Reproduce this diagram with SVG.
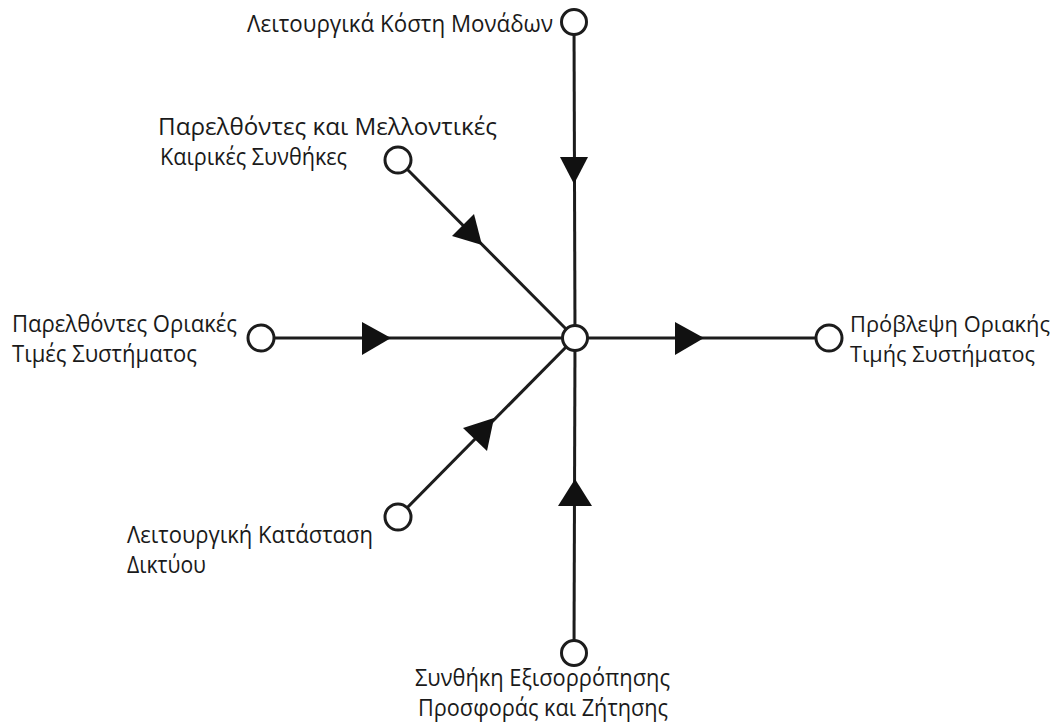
<svg xmlns="http://www.w3.org/2000/svg" width="1057" height="723" viewBox="0 0 1057 723">
  <style>
    .node circle { fill: #fff; stroke: #1c1c1c; stroke-width: 3; }
    .edges line { stroke: #1c1c1c; stroke-width: 3; }
    .edges polygon { fill: #111; }
    text { font-family: "Open Sans", "Noto Sans", "DejaVu Sans", sans-serif; font-size: 23px; fill: #1a1a1a; }
    .narrow { font-size: 21.5px; }
  </style>
  <rect width="1057" height="723" fill="#fff"/>

  <!-- connectors -->
  <g id="connectors" class="edges">
    <line x1="574" y1="22" x2="575" y2="338"/>
    <line x1="398" y1="160" x2="575" y2="338"/>
    <line x1="261" y1="338" x2="575" y2="338"/>
    <line x1="575" y1="338" x2="829" y2="338"/>
    <line x1="398" y1="517" x2="575" y2="338"/>
    <line x1="574" y1="653" x2="575" y2="338"/>
    <!-- arrowheads -->
    <polygon points="560,157 588,157 574,184"/>
    <polygon points="452,236 474,214 482,245"/>
    <polygon points="362,322 362,355 391,338"/>
    <polygon points="675,322 675,355 704,338"/>
    <polygon points="463,428 487,451 494,418"/>
    <polygon points="558,506 592,506 575,479"/>
  </g>

  <g id="center" class="node"><circle cx="575" cy="338" r="12.5"/></g>

  <g id="unit-costs" class="node">
    <circle cx="574" cy="22" r="12.5"/>
    <text x="553" y="32" text-anchor="end" textLength="306" lengthAdjust="spacingAndGlyphs">Λειτουργικά Κόστη Μονάδων</text>
  </g>

  <g id="weather" class="node">
    <circle cx="398" cy="160" r="13"/>
    <text x="158" y="135" textLength="339" lengthAdjust="spacingAndGlyphs">Παρελθόντες και Μελλοντικές</text>
    <text x="160" y="165" textLength="187" lengthAdjust="spacingAndGlyphs">Καιρικές Συνθήκες</text>
  </g>

  <g id="past-prices" class="node">
    <circle cx="261" cy="338" r="13"/>
    <text x="12" y="332" textLength="225" lengthAdjust="spacingAndGlyphs">Παρελθόντες Οριακές</text>
    <text x="12" y="362" textLength="185" lengthAdjust="spacingAndGlyphs">Τιμές Συστήματος</text>
  </g>

  <g id="forecast" class="node">
    <circle cx="829" cy="338" r="13"/>
    <text class="narrow" x="850" y="332" textLength="200" lengthAdjust="spacingAndGlyphs">Πρόβλεψη Οριακής</text>
    <text class="narrow" x="850" y="362" textLength="185" lengthAdjust="spacingAndGlyphs">Τιμής Συστήματος</text>
  </g>

  <g id="network-state" class="node">
    <circle cx="398" cy="517" r="13"/>
    <text x="127" y="543" textLength="246" lengthAdjust="spacingAndGlyphs">Λειτουργική Κατάσταση</text>
    <text x="127" y="573" textLength="79" lengthAdjust="spacingAndGlyphs">Δικτύου</text>
  </g>

  <g id="balance" class="node">
    <circle cx="574" cy="653" r="12.5"/>
    <text x="415" y="686" textLength="255" lengthAdjust="spacingAndGlyphs">Συνθήκη Εξισορρόπησης</text>
    <text x="418" y="716" textLength="250" lengthAdjust="spacingAndGlyphs">Προσφοράς και Ζήτησης</text>
  </g>
</svg>
